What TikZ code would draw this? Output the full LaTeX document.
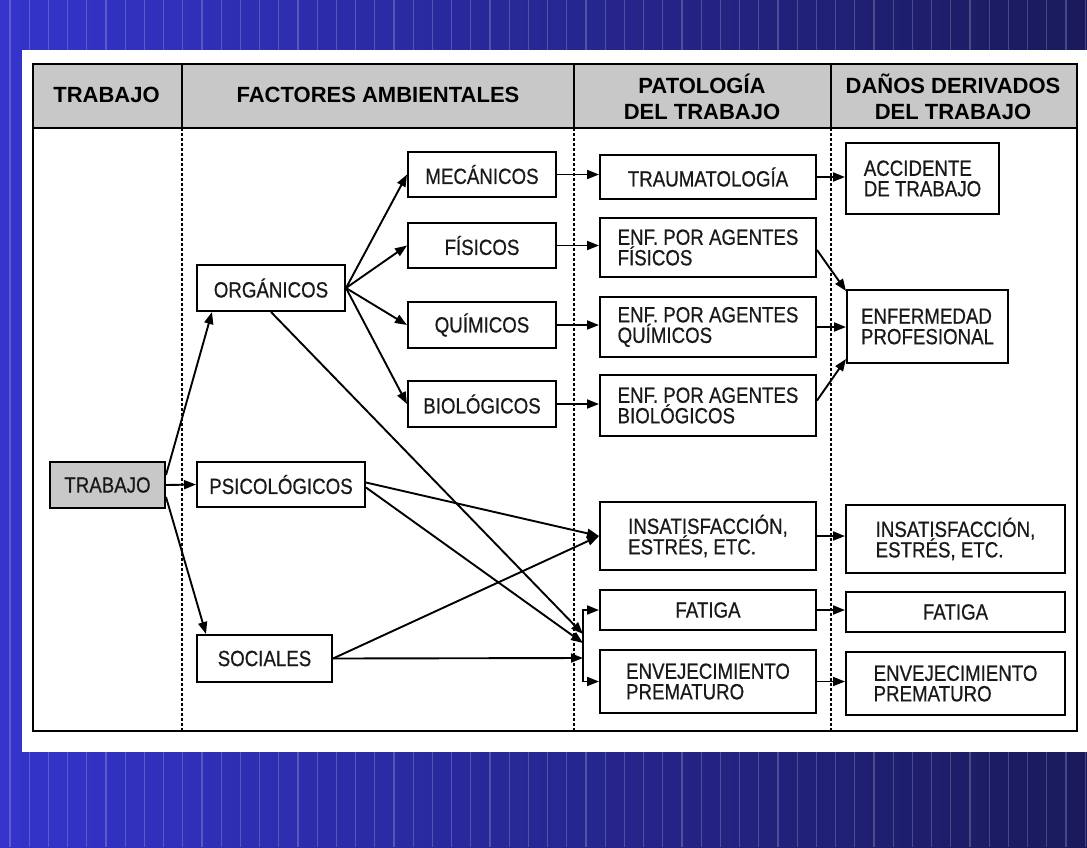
\documentclass[tikz,border=0pt]{standalone}
\usepackage{fontspec}
\setmainfont{Liberation Sans}
\newfontfamily\dgCond{Liberation Sans}[FakeStretch=0.85,FakeBold=0.6]
\usetikzlibrary{arrows.meta}
\definecolor{bgL}{RGB}{52,52,204}
\definecolor{bgR}{RGB}{26,26,92}
\definecolor{hdgray}{RGB}{200,200,200}
\newcommand\dgBody{\dgCond\fontsize{22}{20.5}\selectfont\lineskiplimit=-50pt\relax}
\newcommand\dgHead{\bfseries\fontsize{22}{26}\selectfont\lineskiplimit=-50pt\relax}
\tikzset{
  bx/.style={draw=black, line width=2pt, inner sep=0pt, align=left, font=\dgBody, text=black!90},
  hd/.style={inner sep=0pt, align=center, font=\dgHead, text=black},
  arr/.style={-{Triangle[length=12pt,width=9pt]}, line width=1.9pt, draw=black},
  frameline/.style={line width=2pt, draw=black},
  dotline/.style={line width=1.2pt, draw=black, dash pattern=on 2.5pt off 2.5pt},
  stripe/.style={white, opacity=0.2, line width=1.3pt}
}
\begin{document}
\begin{tikzpicture}[x=1pt,y=-1pt]
\useasboundingbox (0,0) rectangle (1087,847);
% background
\shade[left color=bgL, right color=bgR] (0,0) rectangle (1087,847);
\foreach \i in {0,...,56} \draw[stripe] ({10+\i*19.2},0) -- ++(0,847);
\fill[white] (22,50) rectangle (1087,752);
% table
\fill[hdgray] (33,64) rectangle (1077,128);
\draw[dotline] (182,128) -- (182,731);
\draw[dotline] (574,128) -- (574,731);
\draw[dotline] (831,128) -- (831,731);
\draw[frameline] (182,64) -- (182,128);
\draw[frameline] (574,64) -- (574,128);
\draw[frameline] (831,64) -- (831,128);
\draw[frameline] (33,128) -- (1077,128);
\draw[frameline] (33,64) rectangle (1077,731);
% headers
\node[hd] (h1) at (106.5,95) {TRABAJO};
\node[hd] (h2) at (378,95) {FACTORES AMBIENTALES};
\node[hd] (h3) at (702,97) {PATOLOGÍA\\DEL TRABAJO};
\node[hd] (h4) at (953,97) {DAÑOS DERIVADOS\\DEL TRABAJO};
% column 1-2
\node[bx, fill=hdgray, minimum width=115pt, minimum height=46pt] (t) at (107.5,485) {TRABAJO};
\node[bx, minimum width=148pt, minimum height=46pt] (o) at (271,288) {ORGÁNICOS};
\node[bx, minimum width=168pt, minimum height=45pt] (p) at (281,484.5) {PSICOLÓGICOS};
\node[bx, minimum width=135pt, minimum height=47pt] (s) at (264.5,658.5) {SOCIALES};
\node[bx, minimum width=148pt, minimum height=45pt] (m) at (482,174.5) {MECÁNICOS};
\node[bx, minimum width=148pt, minimum height=45pt] (f) at (482,245.5) {FÍSICOS};
\node[bx, minimum width=148pt, minimum height=46pt] (q) at (482,325) {QUÍMICOS};
\node[bx, minimum width=148pt, minimum height=46pt] (b) at (482,404) {BIOLÓGICOS};
% column 3
\node[bx, minimum width=216pt, minimum height=44pt] (tr) at (708,177) {TRAUMATOLOGÍA};
\node[bx, minimum width=216pt, minimum height=59pt] (ef) at (708,247.5) {ENF. POR AGENTES\\FÍSICOS};
\node[bx, minimum width=216pt, minimum height=60pt] (eq) at (708,327) {ENF. POR AGENTES\\QUÍMICOS};
\node[bx, minimum width=216pt, minimum height=61pt] (eb) at (708,405.5) {ENF. POR AGENTES\\BIOLÓGICOS};
\node[bx, minimum width=216pt, minimum height=68pt] (ip) at (708,536) {INSATISFACCIÓN,\\ESTRÉS, ETC.};
\node[bx, minimum width=216pt, minimum height=40pt] (fp) at (708,610) {FATIGA};
\node[bx, minimum width=216pt, minimum height=63pt] (ep) at (708,681.5) {ENVEJECIMIENTO\\PREMATURO};
% column 4
\node[bx, minimum width=153pt, minimum height=71pt] (ac) at (922.5,178.5) {ACCIDENTE\\DE TRABAJO};
\node[bx, minimum width=161pt, minimum height=73pt] (en) at (927.5,326.5) {ENFERMEDAD\\PROFESIONAL};
\node[bx, minimum width=219pt, minimum height=68pt] (id) at (955.5,539) {INSATISFACCIÓN,\\ESTRÉS, ETC.};
\node[bx, minimum width=219pt, minimum height=40pt] (fd) at (955.5,612) {FATIGA};
\node[bx, minimum width=219pt, minimum height=63pt] (ed) at (955.5,683.5) {ENVEJECIMIENTO\\PREMATURO};
% junction points
\coordinate (j1) at (583,634);
\coordinate (j2) at (583,643);
\coordinate (j3) at (583,658);
% arrows from TRABAJO
\draw[arr] ([yshift=10pt]t.east) -- ([xshift=16pt]o.south west);
\draw[arr] (t.east) -- (p.west);
\draw[arr] ([yshift=-12pt]t.east) -- ([xshift=10pt]s.north west);
% fan from ORGANICOS
\foreach \n in {m,f,q,b} \draw[arr] (o.east) -- (\n.west);
\draw[arr] (o.south) -- (j1);
\draw[arr] ([yshift=2pt]p.east) -- (ip.west);
\draw[arr] ([yshift=-3pt]p.east) -- (j2);
\draw[arr] (s.east) -- (ip.west);
\draw[arr] (s.east) -- (j3);
\draw[arr] (j3) |- (fp.west);
\draw[arr] (j3) |- (ep.west);
% column 2 -> 3
\draw[arr] (m.east) -- (m.east -| tr.west);
\draw[arr] (f.east) -- (f.east -| ef.west);
\draw[arr] (q.east) -- (q.east -| eq.west);
\draw[arr] (b.east) -- (b.east -| eb.west);
% column 3 -> 4
\draw[arr] (tr.east) -- (tr.east -| ac.west);
\draw[arr] ([yshift=-2.5pt]ef.east) -- ([yshift=-2pt]en.north west);
\draw[arr] (eq.east) -- (eq.east -| en.west);
\draw[arr] ([yshift=5pt]eb.east) -- ([yshift=5pt]en.south west);
\draw[arr] (ip.east) -- (ip.east -| id.west);
\draw[arr] (fp.east) -- (fp.east -| fd.west);
\draw[arr] (ep.east) -- (ep.east -| ed.west);
\end{tikzpicture}
\end{document}
